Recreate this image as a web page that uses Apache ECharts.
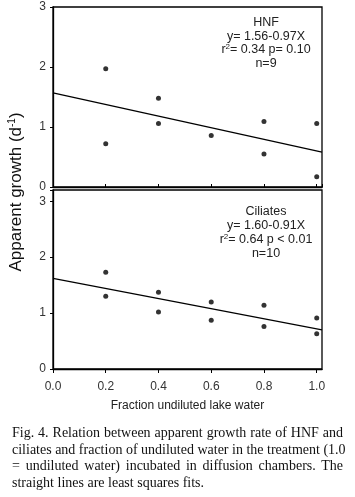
<!DOCTYPE html>
<html>
<head>
<meta charset="utf-8">
<script src="https://cdn.jsdelivr.net/npm/echarts@6/dist/echarts.min.js"></script>
<style>
  body { margin: 0; background: #fff; }
  #chart { width: 355px; height: 497px; }
  #cap {
    position: absolute; left: 12px; top: 425px; width: 331px;
    font-family: 'Liberation Serif', 'Times New Roman', serif;
    font-size: 14px; line-height: 16.5px; color: #111;
  }
  #cap div { text-align: justify; text-align-last: justify; white-space: nowrap; }
  #cap div.last { text-align-last: left; }
</style>
</head>
<body>
<div id="chart"></div>
<div id="cap">
  <div>Fig. 4. Relation between apparent growth rate of HNF and</div>
  <div>ciliates and fraction of undiluted water in the treatment (1.0</div>
  <div>= undiluted water) incubated in diffusion chambers. The</div>
  <div class="last">straight lines are least squares fits.</div>
</div>
<script>
// HNF panel (top)
const hnfX = [0.2, 0.2, 0.4, 0.4, 0.6, 0.8, 0.8, 1.0, 1.0];
const hnfY = [1.97, 0.72, 1.48, 1.06, 0.86, 1.09, 0.55, 1.06, 0.17];
// Ciliates panel (bottom)
const cilX = [0.2, 0.2, 0.4, 0.4, 0.6, 0.6, 0.8, 0.8, 1.0, 1.0];
const cilY = [1.73, 1.30, 1.37, 1.02, 1.20, 0.87, 1.14, 0.76, 0.91, 0.63];
// least squares lines, read at the panel edges
const fitX = [0, 1.02];
const hnfFit = [1.57, 0.58];
const cilFit = [1.62, 0.70];
const yTicks = [0, 1, 2, 3];

const pairs = (xs, ys) => xs.map((x, i) => [x, ys[i]]);
const sans = 'Liberation Sans, Arial, sans-serif';

const xAxisBase = {
  type: 'value', min: 0, max: 1.02, interval: 0.2,
  axisLine: { lineStyle: { color: '#000', width: 1.3 } },
  splitLine: { show: false },
};
const yAxisBase = {
  type: 'value', min: 0, interval: 1,
  axisLine: { show: true, lineStyle: { color: '#000', width: 1.3 } },
  axisTick: { show: true, length: 3, lineStyle: { color: '#000' } },
  axisLabel: {
    color: '#333', fontSize: 12, fontFamily: sans, margin: 7,
    formatter: (v) => (yTicks.includes(v) ? String(v) : ''),
  },
  splitLine: { show: false },
};

const chart = echarts.init(document.getElementById('chart'));
chart.setOption({
  animation: false,
  grid: [
    { left: 53, top: 7, width: 269, height: 180, show: true, borderColor: '#000', borderWidth: 1.3 },
    { left: 53, top: 190, width: 269, height: 179, show: true, borderColor: '#000', borderWidth: 1.3 },
  ],
  xAxis: [
    Object.assign({}, xAxisBase, {
      gridIndex: 0,
      axisTick: { inside: true, length: 3, lineStyle: { color: '#000' } },
      axisLabel: { show: false },
    }),
    Object.assign({}, xAxisBase, {
      gridIndex: 1,
      axisTick: { length: 4, lineStyle: { color: '#000' } },
      axisLabel: {
        color: '#333', fontSize: 12, fontFamily: sans, margin: 12, showMaxLabel: false,
        formatter: (v) => v.toFixed(1),
      },
      name: 'Fraction undiluted lake water',
      nameLocation: 'middle', nameGap: 31,
      nameTextStyle: { color: '#222', fontSize: 12, fontFamily: sans },
    }),
  ],
  yAxis: [
    Object.assign({}, yAxisBase, { gridIndex: 0, max: 3 }),
    Object.assign({}, yAxisBase, { gridIndex: 1, max: 3.2 }),
  ],
  series: [
    { type: 'scatter', xAxisIndex: 0, yAxisIndex: 0, symbolSize: 5,
      itemStyle: { color: '#000' }, data: pairs(hnfX, hnfY) },
    { type: 'line', xAxisIndex: 0, yAxisIndex: 0, showSymbol: false,
      lineStyle: { color: '#000', width: 1.3 }, data: pairs(fitX, hnfFit) },
    { type: 'scatter', xAxisIndex: 1, yAxisIndex: 1, symbolSize: 5,
      itemStyle: { color: '#000' }, data: pairs(cilX, cilY) },
    { type: 'line', xAxisIndex: 1, yAxisIndex: 1, showSymbol: false,
      lineStyle: { color: '#000', width: 1.3 }, data: pairs(fitX, cilFit) },
  ],
  graphic: [
    {
      type: 'text', x: 16, y: 192, rotation: Math.PI / 2,
      style: {
        text: '{a|Apparent growth (d}{s|-1}{a|)}',
        textAlign: 'center', textVerticalAlign: 'middle',
        rich: {
          a: { fontSize: 17, fontFamily: sans, fill: '#111' },
          s: { fontSize: 10, fontFamily: sans, fill: '#111', verticalAlign: 'top', padding: [0, 0, 8, 0] },
        },
      },
    },
    {
      type: 'text', x: 266, y: 16,
      style: {
        text: '{n|HNF}\n{n|y= 1.56-0.97X}\n{n|r}{s|2}{n|= 0.34 p= 0.10}\n{n|n=9}',
        textAlign: 'center', textVerticalAlign: 'top',
        rich: {
          n: { fontSize: 12.5, fontFamily: sans, fill: '#222', lineHeight: 13.5 },
          s: { fontSize: 8, fontFamily: sans, fill: '#222', lineHeight: 13.5, verticalAlign: 'top', padding: [0, 0, 6, 0] },
        },
      },
    },
    {
      type: 'text', x: 266, y: 205,
      style: {
        text: '{n|Ciliates}\n{n|y= 1.60-0.91X}\n{n|r}{s|2}{n|= 0.64 p < 0.01}\n{n|n=10}',
        textAlign: 'center', textVerticalAlign: 'top',
        rich: {
          n: { fontSize: 12.5, fontFamily: sans, fill: '#222', lineHeight: 13.8 },
          s: { fontSize: 8, fontFamily: sans, fill: '#222', lineHeight: 13.8, verticalAlign: 'top', padding: [0, 0, 6, 0] },
        },
      },
    },
  ],
});
</script>
</body>
</html>
